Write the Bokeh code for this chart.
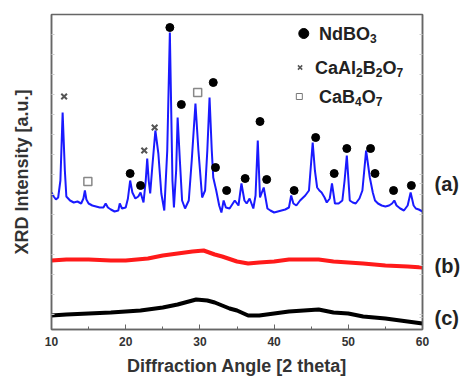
from bokeh.plotting import figure
from bokeh.models import (Range1d, FixedTicker, LinearAxis, Label,
                          CustomJSTickFormatter)
from bokeh.embed import file_html
from bokeh.resources import INLINE

# ---------------- data ----------------
x_ticks = [10, 20, 30, 40, 50, 60]
x_minor = [15, 25, 35, 45, 55]

blue_x = [10.0, 10.3, 10.6, 10.9, 11.2, 11.5, 11.8, 12.0, 12.5, 13.0, 13.5, 14.0,
          14.3, 14.5, 14.7, 15.0, 15.5, 16.0, 16.5, 17.0, 17.3, 17.6, 18.0, 18.5,
          19.0, 19.2, 19.5, 20.0, 20.3, 20.6, 20.9, 21.3, 21.7, 22.0, 22.4, 22.7,
          22.9, 23.1, 23.3, 23.6, 24.0, 24.4, 24.8, 25.2, 25.6, 25.95, 26.3, 26.5,
          26.8, 27.0, 27.3, 27.6, 28.0, 28.5, 28.9, 29.4, 29.8, 30.3, 30.7, 31.0,
          31.3, 31.6, 31.8, 32.2, 32.6, 32.9, 33.2, 33.5, 34.0, 34.7, 35.2, 35.6,
          36.0, 36.3, 36.7, 37.2, 37.5, 37.8, 38.1, 38.6, 39.1, 39.5, 40.0, 40.5,
          41.0, 41.5, 42.0, 42.3, 42.6, 43.0, 43.5, 44.2, 44.7, 45.2, 45.5, 45.8,
          46.1, 46.4, 46.8, 47.1, 47.5, 47.8, 48.2, 48.7, 49.2, 49.5, 49.8, 50.2,
          50.6, 51.0, 51.5, 51.9, 52.4, 52.9, 53.3, 53.6, 54.0, 54.5, 55.0, 55.5,
          55.9, 56.2, 56.5, 57.0, 57.5, 58.0, 58.4, 58.8, 59.1, 59.5, 60.0]
blue_y = [137, 133, 130, 132, 149, 217, 159, 133, 129, 127, 128, 126,
          131, 139, 130, 126, 124, 123, 122, 122, 126, 122, 120, 118,
          119, 126, 121, 122, 131, 149, 137, 131, 133, 137, 127, 149,
          171, 149, 136, 164, 199, 176, 136, 119, 179, 297, 149, 122,
          159, 212, 169, 129, 121, 129, 169, 226, 179, 132, 139, 179,
          232, 179, 152, 139, 124, 117, 129, 122, 121, 129, 124, 146,
          129, 126, 131, 121, 134, 189, 132, 142, 121, 119, 117, 118,
          119, 120, 122, 134, 126, 124, 129, 134, 139, 187, 159, 142,
          139, 137, 132, 127, 131, 146, 126, 126, 129, 149, 174, 129,
          127, 126, 131, 139, 179, 152, 137, 129, 126, 124, 123, 124,
          126, 129, 124, 121, 119, 124, 137, 124, 121, 120, 118]

red_x = [10, 12, 15, 18, 20, 23, 25, 27, 29, 30.5, 32, 33, 35, 36.5, 38, 40,
         42, 44, 46, 48, 50, 52, 55, 58, 60]
red_y = [69, 70, 70, 69, 69, 71, 74, 76, 78, 79, 75, 73, 68, 66, 67, 68,
         70, 70, 70, 68, 67, 66, 64, 63, 62]

black_x = [10, 12, 15, 18, 20, 22, 25, 27, 28, 29.5, 31, 32, 33, 34, 35, 36.5,
           38, 40, 42, 44, 46, 48, 50, 52, 55, 58, 60]
black_y = [14, 15, 16, 17, 18, 19, 22, 25, 27, 30, 29, 27, 24, 21, 19, 14,
           14, 16, 18, 19, 20, 17, 16, 13, 11, 8, 6]

ndbo3_x = [25.95, 20.6, 22.0, 27.5, 31.8, 32.1, 33.6, 36.1, 38.1, 39.0, 42.7,
           45.6, 48.1, 49.8, 53.0, 53.6, 56.1, 58.5]
ndbo3_y = [302, 156, 144, 225, 247, 162, 139, 151, 208, 150, 139,
           192, 156, 181, 181, 156, 139, 144]

caal_x = [11.7, 22.5, 23.9]
caal_y = [233, 179, 202]

cab_x = [14.9, 29.7]
cab_y = [148, 237]

# legend entries as (text, is_subscript) pieces
legend_names = [
    [("NdBO", False), ("3", True)],
    [("CaAl", False), ("2", True), ("B", False), ("2", True), ("O", False), ("7", True)],
    [("CaB", False), ("4", True), ("O", False), ("7", True)],
]
trace_names = ["(a)", "(b)", "(c)"]
trace_label_y = [146, 64, 12]

FONT = "Liberation Sans"
# Arial/Liberation Sans Bold advance widths (em/1000)
ADV = {"N": 722, "d": 611, "B": 722, "O": 778, "C": 722, "a": 556, "A": 722,
       "l": 278, "2": 556, "3": 556, "4": 556, "7": 556}

p = figure(width=463, height=378, output_backend="svg", toolbar_location=None,
           x_range=Range1d(10, 60), y_range=Range1d(0, 315),
           min_border_left=51, min_border_right=38, min_border_top=14,
           min_border_bottom=41)
p.grid.visible = False
p.background_fill_color = "white"
p.border_fill_color = "white"
p.outline_line_color = "#666666"
p.outline_line_width = 1.5

# x axis
xa = p.xaxis[0]
xa.ticker = FixedTicker(ticks=x_ticks, minor_ticks=x_minor)
xa.major_tick_in = 5
xa.major_tick_out = 0
xa.minor_tick_in = 3
xa.minor_tick_out = 0
xa.axis_line_color = "#666666"
xa.axis_line_width = 1.5
xa.major_tick_line_color = "#666666"
xa.minor_tick_line_color = "#666666"
xa.major_label_text_font = FONT
xa.major_label_text_font_style = "bold"
xa.major_label_text_font_size = "12px"
xa.major_label_text_color = "#333333"
xa.major_label_standoff = 7
xa.axis_label = "Diffraction Angle [2 theta]"
xa.axis_label_text_font = FONT
xa.axis_label_text_font_style = "bold"
xa.axis_label_text_font_size = "18px"
xa.axis_label_text_color = "#333333"
xa.axis_label_standoff = 7

# y axis (no labels, faint inner ticks)
empty = CustomJSTickFormatter(code="return ''")
ya = p.yaxis[0]
ya.ticker = FixedTicker(ticks=list(range(15, 315, 20)))
ya.formatter = empty
ya.major_tick_in = 3
ya.major_tick_out = 0
ya.minor_tick_in = 0
ya.minor_tick_out = 0
ya.major_tick_line_color = "#cccccc"
ya.axis_line_color = "#666666"
ya.axis_line_width = 1.5
ya.axis_label = "XRD Intensity [a.u.]"
ya.axis_label_text_font = FONT
ya.axis_label_text_font_style = "bold"
ya.axis_label_text_font_size = "18px"
ya.axis_label_text_color = "#333333"
ya.axis_label_standoff = 20

# right axis carries the trace names (a), (b), (c)
r_ticks = list(range(15, 315, 20)) + trace_label_y
r_over = {t: "" for t in range(15, 315, 20)}
r_over.update({t: n for t, n in zip(trace_label_y, trace_names)})
ra = LinearAxis(ticker=FixedTicker(ticks=r_ticks), major_label_overrides=r_over,
                major_tick_in=3, major_tick_out=0, minor_tick_in=0, minor_tick_out=0,
                major_tick_line_color="#cccccc", axis_line_color="#666666",
                axis_line_width=1.5, major_label_standoff=12,
                major_label_text_font=FONT, major_label_text_font_style="bold",
                major_label_text_font_size="20px", major_label_text_color="#222222")
p.add_layout(ra, "right")

# traces
p.line(black_x, black_y, line_color="black", line_width=4)
p.line(red_x, red_y, line_color="#ff1a1a", line_width=4)
p.line(blue_x, blue_y, line_color="#1a1aff", line_width=2)

# phase markers
p.scatter(ndbo3_x, ndbo3_y, marker="circle", size=8, fill_color="black",
          line_color="black")
p.scatter(caal_x, caal_y, marker="x", size=8, line_color="#555555", line_width=2)
p.scatter(cab_x, cab_y, marker="square", size=8, fill_color="white",
          line_color="#888888", line_width=1.5)

# legend (drawn manually)
p.scatter([44.0], [296], marker="circle", size=10, fill_color="black", line_color="black")
p.scatter([43.5], [262], marker="x", size=6, line_color="#555555", line_width=1.5)
p.scatter([43.4], [233], marker="square", size=6, fill_color="white",
          line_color="#777777", line_width=1)
leg_pos = [(46.06, 296), (45.52, 262), (46.06, 233)]
BIG, SMALL = 18, 12
for pieces, (lx, ly) in zip(legend_names, leg_pos):
    off = 0.0
    for txt, sub in pieces:
        fs = SMALL if sub else BIG
        p.add_layout(Label(x=lx, y=ly, x_offset=off, y_offset=-5 if sub else 0,
                           text=txt, text_font=FONT, text_font_style="bold",
                           text_font_size=f"{fs}px", text_color="#222222",
                           text_baseline="middle", text_align="left"))
        off += sum(ADV[c] for c in txt) * fs / 1000.0

open("out.html", "w").write(file_html(p, INLINE))
